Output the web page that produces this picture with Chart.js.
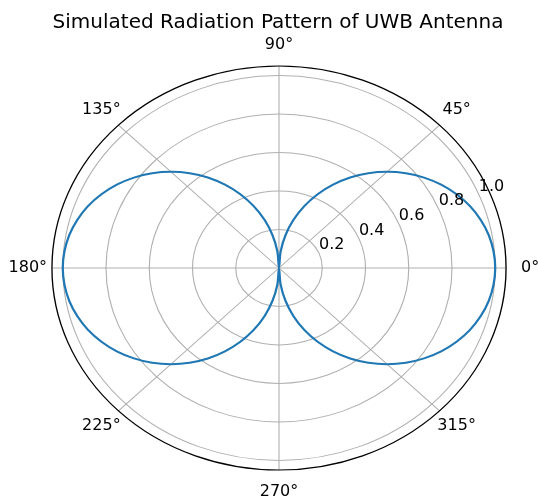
<!DOCTYPE html>
<html>
<head>
<meta charset="utf-8">
<script src="https://cdn.jsdelivr.net/npm/chart.js@4.4.0/dist/chart.umd.min.js"></script>
<style>
  html, body { margin: 0; padding: 0; background: #fff; }
  canvas { display: block; }
</style>
</head>
<body>
<canvas id="pattern" width="538" height="501"></canvas>
<script>
const chartTitle = 'Simulated Radiation Pattern of UWB Antenna';

// sample angles in degrees, in the order the radar scale walks them (clockwise from the top)
const thetaDeg = [
  90, 85, 80, 75, 70, 65, 60, 55, 50, 45, 40, 35, 30, 25, 20, 15, 10, 5,
  0, 355, 350, 345, 340, 335, 330, 325, 320, 315, 310, 305, 300, 295, 290, 285, 280, 275,
  270, 265, 260, 255, 250, 245, 240, 235, 230, 225, 220, 215, 210, 205, 200, 195, 190, 185,
  180, 175, 170, 165, 160, 155, 150, 145, 140, 135, 130, 125, 120, 115, 110, 105, 100, 95
];

// normalised gain
const gain = [
  0.000, 0.087, 0.174, 0.259, 0.342, 0.423, 0.500, 0.574, 0.643, 0.707, 0.766, 0.819, 0.866, 0.906, 0.940, 0.966, 0.985, 0.996,
  1.000, 0.996, 0.985, 0.966, 0.940, 0.906, 0.866, 0.819, 0.766, 0.707, 0.643, 0.574, 0.500, 0.423, 0.342, 0.259, 0.174, 0.087,
  0.000, 0.087, 0.174, 0.259, 0.342, 0.423, 0.500, 0.574, 0.643, 0.707, 0.766, 0.819, 0.866, 0.906, 0.940, 0.966, 0.985, 0.996,
  1.000, 0.996, 0.985, 0.966, 0.940, 0.906, 0.866, 0.819, 0.766, 0.707, 0.643, 0.574, 0.500, 0.423, 0.342, 0.259, 0.174, 0.087
];

const angleTicks = [0, 45, 90, 135, 180, 225, 270, 315];
const radialStep = 0.2;
const radialMax = 1.05;

// the reference picture is wider than tall, so the polar area is drawn stretched sideways
const SX = 1.124;
const FONT = '"DejaVu Sans", "Liberation Sans", sans-serif';

const polarLook = {
    id: 'polarLook',
    beforeDraw(chart) {
        const ctx = chart.ctx;
        const r = chart.scales.r;
        ctx.save();
        ctx.translate(r.xCenter, r.yCenter);
        ctx.scale(SX, 1);
        ctx.translate(-r.xCenter, -r.yCenter);
    },
    afterDatasetsDraw(chart) {
        const ctx = chart.ctx;
        const r = chart.scales.r;
        // outer spine
        ctx.beginPath();
        ctx.arc(r.xCenter, r.yCenter, r.getDistanceFromCenterForValue(r.max), 0, Math.PI * 2);
        ctx.strokeStyle = '#000';
        ctx.lineWidth = 1.2;
        ctx.stroke();
        ctx.restore();
    },
    afterDraw(chart) {
        const ctx = chart.ctx;
        const r = chart.scales.r;
        const cx = r.xCenter, cy = r.yCenter;
        ctx.save();
        ctx.fillStyle = '#000';

        ctx.font = '20px ' + FONT;
        ctx.textAlign = 'center';
        ctx.textBaseline = 'alphabetic';
        ctx.fillText(chartTitle, cx - 1, 28);

        ctx.font = '16px ' + FONT;
        ctx.textBaseline = 'middle';
        const labelDist = r.getDistanceFromCenterForValue(r.max) + 21.5;
        angleTicks.forEach(a => {
            const p = r.getPointPosition(thetaDeg.indexOf(a), labelDist);
            ctx.fillText(a + '°', cx + (p.x - cx) * SX, p.y);
        });

        ctx.textAlign = 'left';
        ctx.textBaseline = 'bottom';
        const phi = 22.5 * Math.PI / 180;
        r.ticks.forEach(t => {
            if (t.value <= 0) return;
            const d = r.getDistanceFromCenterForValue(t.value);
            ctx.fillText(t.value.toFixed(1), cx + d * Math.cos(phi) * SX, cy - d * Math.sin(phi));
        });
        ctx.restore();
    }
};

const chart = new Chart(document.getElementById('pattern').getContext('2d'), {
    type: 'radar',
    data: {
        labels: thetaDeg,
        datasets: [{
            data: gain,
            borderColor: '#1f77b4',
            backgroundColor: 'rgba(0,0,0,0)',
            borderWidth: 2,
            fill: false,
            tension: 0.3,
            pointRadius: 0,
            pointHoverRadius: 0,
            borderJoinStyle: 'round'
        }]
    },
    options: {
        responsive: false,
        animation: false,
        events: [],
        layout: { padding: { left: 77, right: 57, top: 66, bottom: 31 } },
        plugins: {
            legend: { display: false },
            title: { display: false },
            tooltip: { enabled: false }
        },
        scales: {
            r: {
                min: 0,
                max: radialMax,
                bounds: 'data',
                startAngle: 0,
                ticks: { display: false, stepSize: radialStep, includeBounds: false },
                pointLabels: { display: false },
                grid: { circular: true, color: '#b0b0b0', lineWidth: 1 },
                angleLines: {
                    color: '#b0b0b0',
                    lineWidth: ctx => angleTicks.includes(thetaDeg[ctx.index]) ? 1 : 0
                }
            }
        }
    },
    plugins: [polarLook]
});
</script>
</body>
</html>
